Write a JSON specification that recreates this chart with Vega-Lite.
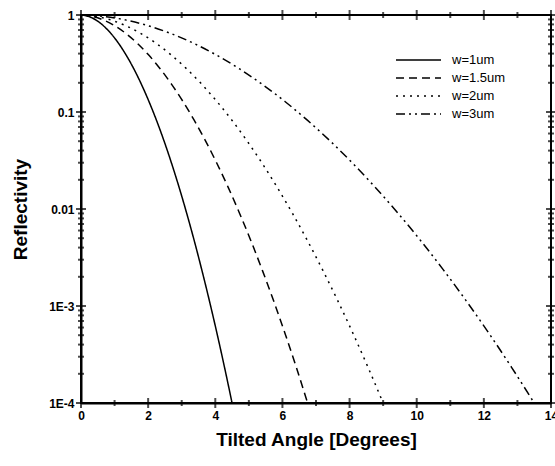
{
  "$schema": "https://vega.github.io/schema/vega-lite/v6.json",
  "width": 470,
  "height": 388,
  "autosize": {"type": "none"},
  "padding": {"left": 81, "top": 15, "right": 4, "bottom": 63},
  "background": "white",
  "config": {
    "font": "Liberation Sans",
    "view": {"stroke": "black", "strokeWidth": 2},
    "axis": {"domainColor": "black", "domainWidth": 2, "grid": false, "labelColor": "black", "titleColor": "black", "labelFont": "Liberation Sans", "titleFont": "Liberation Sans", "labelFontWeight": "bold", "titleFontWeight": "bold", "labelFontSize": 12, "titleFontSize": 19}
  },
  "datasets": {
    "curves": [
      {"series": "w=1um", "angle": 0, "R": 1},
      {"series": "w=1um", "angle": 0.225, "R": 0.9676},
      {"series": "w=1um", "angle": 0.45, "R": 0.8857},
      {"series": "w=1um", "angle": 0.675, "R": 0.7709},
      {"series": "w=1um", "angle": 0.9, "R": 0.6397},
      {"series": "w=1um", "angle": 1.125, "R": 0.507},
      {"series": "w=1um", "angle": 1.35, "R": 0.3837},
      {"series": "w=1um", "angle": 1.575, "R": 0.278},
      {"series": "w=1um", "angle": 1.8, "R": 0.1928},
      {"series": "w=1um", "angle": 2.025, "R": 0.1282},
      {"series": "w=1um", "angle": 2.25, "R": 0.08185},
      {"series": "w=1um", "angle": 2.475, "R": 0.05012},
      {"series": "w=1um", "angle": 2.7, "R": 0.02944},
      {"series": "w=1um", "angle": 2.925, "R": 0.0166},
      {"series": "w=1um", "angle": 3.15, "R": 0.008995},
      {"series": "w=1um", "angle": 3.375, "R": 0.004688},
      {"series": "w=1um", "angle": 3.6, "R": 0.002344},
      {"series": "w=1um", "angle": 3.825, "R": 0.00113},
      {"series": "w=1um", "angle": 4.05, "R": 0.0005236},
      {"series": "w=1um", "angle": 4.275, "R": 0.0002333},
      {"series": "w=1um", "angle": 4.5, "R": 0.0001},
      {"series": "w=1.5um", "angle": 0, "R": 1},
      {"series": "w=1.5um", "angle": 0.338, "R": 0.9676},
      {"series": "w=1.5um", "angle": 0.675, "R": 0.8857},
      {"series": "w=1.5um", "angle": 1.013, "R": 0.7709},
      {"series": "w=1.5um", "angle": 1.35, "R": 0.6397},
      {"series": "w=1.5um", "angle": 1.688, "R": 0.507},
      {"series": "w=1.5um", "angle": 2.025, "R": 0.3837},
      {"series": "w=1.5um", "angle": 2.363, "R": 0.278},
      {"series": "w=1.5um", "angle": 2.7, "R": 0.1928},
      {"series": "w=1.5um", "angle": 3.038, "R": 0.1282},
      {"series": "w=1.5um", "angle": 3.375, "R": 0.08185},
      {"series": "w=1.5um", "angle": 3.713, "R": 0.05012},
      {"series": "w=1.5um", "angle": 4.05, "R": 0.02944},
      {"series": "w=1.5um", "angle": 4.388, "R": 0.0166},
      {"series": "w=1.5um", "angle": 4.725, "R": 0.008995},
      {"series": "w=1.5um", "angle": 5.063, "R": 0.004688},
      {"series": "w=1.5um", "angle": 5.4, "R": 0.002344},
      {"series": "w=1.5um", "angle": 5.738, "R": 0.00113},
      {"series": "w=1.5um", "angle": 6.075, "R": 0.0005236},
      {"series": "w=1.5um", "angle": 6.413, "R": 0.0002333},
      {"series": "w=1.5um", "angle": 6.75, "R": 0.0001},
      {"series": "w=2um", "angle": 0, "R": 1},
      {"series": "w=2um", "angle": 0.45, "R": 0.9676},
      {"series": "w=2um", "angle": 0.9, "R": 0.8857},
      {"series": "w=2um", "angle": 1.35, "R": 0.7709},
      {"series": "w=2um", "angle": 1.8, "R": 0.6397},
      {"series": "w=2um", "angle": 2.25, "R": 0.507},
      {"series": "w=2um", "angle": 2.7, "R": 0.3837},
      {"series": "w=2um", "angle": 3.15, "R": 0.278},
      {"series": "w=2um", "angle": 3.6, "R": 0.1928},
      {"series": "w=2um", "angle": 4.05, "R": 0.1282},
      {"series": "w=2um", "angle": 4.5, "R": 0.08185},
      {"series": "w=2um", "angle": 4.95, "R": 0.05012},
      {"series": "w=2um", "angle": 5.4, "R": 0.02944},
      {"series": "w=2um", "angle": 5.85, "R": 0.0166},
      {"series": "w=2um", "angle": 6.3, "R": 0.008995},
      {"series": "w=2um", "angle": 6.75, "R": 0.004688},
      {"series": "w=2um", "angle": 7.2, "R": 0.002344},
      {"series": "w=2um", "angle": 7.65, "R": 0.00113},
      {"series": "w=2um", "angle": 8.1, "R": 0.0005236},
      {"series": "w=2um", "angle": 8.55, "R": 0.0002333},
      {"series": "w=2um", "angle": 9.0, "R": 0.0001},
      {"series": "w=3um", "angle": 0, "R": 1},
      {"series": "w=3um", "angle": 0.675, "R": 0.9676},
      {"series": "w=3um", "angle": 1.35, "R": 0.8857},
      {"series": "w=3um", "angle": 2.025, "R": 0.7709},
      {"series": "w=3um", "angle": 2.7, "R": 0.6397},
      {"series": "w=3um", "angle": 3.375, "R": 0.507},
      {"series": "w=3um", "angle": 4.05, "R": 0.3837},
      {"series": "w=3um", "angle": 4.725, "R": 0.278},
      {"series": "w=3um", "angle": 5.4, "R": 0.1928},
      {"series": "w=3um", "angle": 6.075, "R": 0.1282},
      {"series": "w=3um", "angle": 6.75, "R": 0.08185},
      {"series": "w=3um", "angle": 7.425, "R": 0.05012},
      {"series": "w=3um", "angle": 8.1, "R": 0.02944},
      {"series": "w=3um", "angle": 8.775, "R": 0.0166},
      {"series": "w=3um", "angle": 9.45, "R": 0.008995},
      {"series": "w=3um", "angle": 10.125, "R": 0.004688},
      {"series": "w=3um", "angle": 10.8, "R": 0.002344},
      {"series": "w=3um", "angle": 11.475, "R": 0.00113},
      {"series": "w=3um", "angle": 12.15, "R": 0.0005236},
      {"series": "w=3um", "angle": 12.825, "R": 0.0002333},
      {"series": "w=3um", "angle": 13.5, "R": 0.0001}
    ],
    "xticks": [
      {"v": 0, "kind": "major"}, {"v": 1, "kind": "minor"}, {"v": 2, "kind": "major"}, {"v": 3, "kind": "minor"},
      {"v": 4, "kind": "major"}, {"v": 5, "kind": "minor"}, {"v": 6, "kind": "major"}, {"v": 7, "kind": "minor"},
      {"v": 8, "kind": "major"}, {"v": 9, "kind": "minor"}, {"v": 10, "kind": "major"}, {"v": 11, "kind": "minor"},
      {"v": 12, "kind": "major"}, {"v": 13, "kind": "minor"}, {"v": 14, "kind": "major"}
    ],
    "yticks": [
      {"v": 0.0001, "kind": "major"}, {"v": 0.0002, "kind": "minor"}, {"v": 0.0003, "kind": "minor"}, {"v": 0.0004, "kind": "minor"}, {"v": 0.0005, "kind": "minor"}, {"v": 0.0006, "kind": "minor"}, {"v": 0.0007, "kind": "minor"}, {"v": 0.0008, "kind": "minor"}, {"v": 0.0009, "kind": "minor"},
      {"v": 0.001, "kind": "major"}, {"v": 0.002, "kind": "minor"}, {"v": 0.003, "kind": "minor"}, {"v": 0.004, "kind": "minor"}, {"v": 0.005, "kind": "minor"}, {"v": 0.006, "kind": "minor"}, {"v": 0.007, "kind": "minor"}, {"v": 0.008, "kind": "minor"}, {"v": 0.009, "kind": "minor"},
      {"v": 0.01, "kind": "major"}, {"v": 0.02, "kind": "minor"}, {"v": 0.03, "kind": "minor"}, {"v": 0.04, "kind": "minor"}, {"v": 0.05, "kind": "minor"}, {"v": 0.06, "kind": "minor"}, {"v": 0.07, "kind": "minor"}, {"v": 0.08, "kind": "minor"}, {"v": 0.09, "kind": "minor"},
      {"v": 0.1, "kind": "major"}, {"v": 0.2, "kind": "minor"}, {"v": 0.3, "kind": "minor"}, {"v": 0.4, "kind": "minor"}, {"v": 0.5, "kind": "minor"}, {"v": 0.6, "kind": "minor"}, {"v": 0.7, "kind": "minor"}, {"v": 0.8, "kind": "minor"}, {"v": 0.9, "kind": "minor"},
      {"v": 1, "kind": "major"}
    ]
  },
  "layer": [
    {
      "data": {"name": "curves"},
      "mark": {"type": "line", "interpolate": "monotone", "strokeWidth": 1.5, "color": "black", "clip": true},
      "encoding": {
        "x": {
          "field": "angle", "type": "quantitative",
          "scale": {"domain": [0, 14], "nice": false},
          "axis": {
            "orient": "bottom", "title": "Tilted Angle [Degrees]",
            "values": [0,2,4,6,8,10,12,14],
            "ticks": false, "tickSize": 0,
            "labelPadding": 7, "titlePadding": 9, "labelFlush": false, "labelOverlap": false
          }
        },
        "y": {
          "field": "R", "type": "quantitative",
          "scale": {"type": "log", "domain": [0.0001, 1], "nice": false},
          "axis": {
            "orient": "left", "title": "Reflectivity",
            "values": [0.0001, 0.001, 0.01, 0.1, 1],
            "labelExpr": "datum.value == 1 ? '1' : datum.value == 0.1 ? '0.1' : datum.value == 0.01 ? '0.01' : datum.value == 0.001 ? '1E-3' : '1E-4'",
            "ticks": false, "tickSize": 0,
            "labelPadding": 7, "titlePadding": 18, "labelFlush": false, "labelOverlap": false
          }
        },
        "strokeDash": {
          "field": "series", "type": "nominal",
          "scale": {"domain": ["w=1um", "w=1.5um", "w=2um", "w=3um"], "range": [[1, 0], [8, 5], [2, 5], [9, 4, 2, 4, 2, 4]]},
          "legend": {
            "orient": "none", "legendX": 314, "legendY": 38, "title": null,
            "symbolType": "stroke", "symbolSize": 2025, "symbolStrokeWidth": 1.5, "symbolStrokeColor": "black",
            "labelFont": "Liberation Sans", "labelFontSize": 13, "labelColor": "black", "labelFontWeight": "normal",
            "clipHeight": 14, "rowPadding": 4, "labelOffset": 10
          }
        }
      }
    },
    {
      "data": {"name": "xticks"},
      "mark": {"type": "tick", "orient": "vertical", "color": "black", "thickness": 2},
      "encoding": {
        "x": {"field": "v", "type": "quantitative"},
        "y": {"datum": 0.0001},
        "size": {"condition": {"test": "datum.kind === 'major'", "value": 10}, "value": 6}
      }
    },
    {
      "data": {"name": "xticks"},
      "mark": {"type": "tick", "orient": "vertical", "color": "black", "thickness": 2},
      "encoding": {
        "x": {"field": "v", "type": "quantitative"},
        "y": {"datum": 1},
        "size": {"condition": {"test": "datum.kind === 'major'", "value": 10}, "value": 6}
      }
    },
    {
      "data": {"name": "yticks"},
      "mark": {"type": "tick", "orient": "horizontal", "color": "black", "thickness": 2},
      "encoding": {
        "y": {"field": "v", "type": "quantitative"},
        "x": {"datum": 0},
        "size": {"condition": {"test": "datum.kind === 'major'", "value": 10}, "value": 6}
      }
    },
    {
      "data": {"name": "yticks"},
      "mark": {"type": "tick", "orient": "horizontal", "color": "black", "thickness": 2},
      "encoding": {
        "y": {"field": "v", "type": "quantitative"},
        "x": {"datum": 14},
        "size": {"condition": {"test": "datum.kind === 'major'", "value": 10}, "value": 6}
      }
    }
  ]
}
